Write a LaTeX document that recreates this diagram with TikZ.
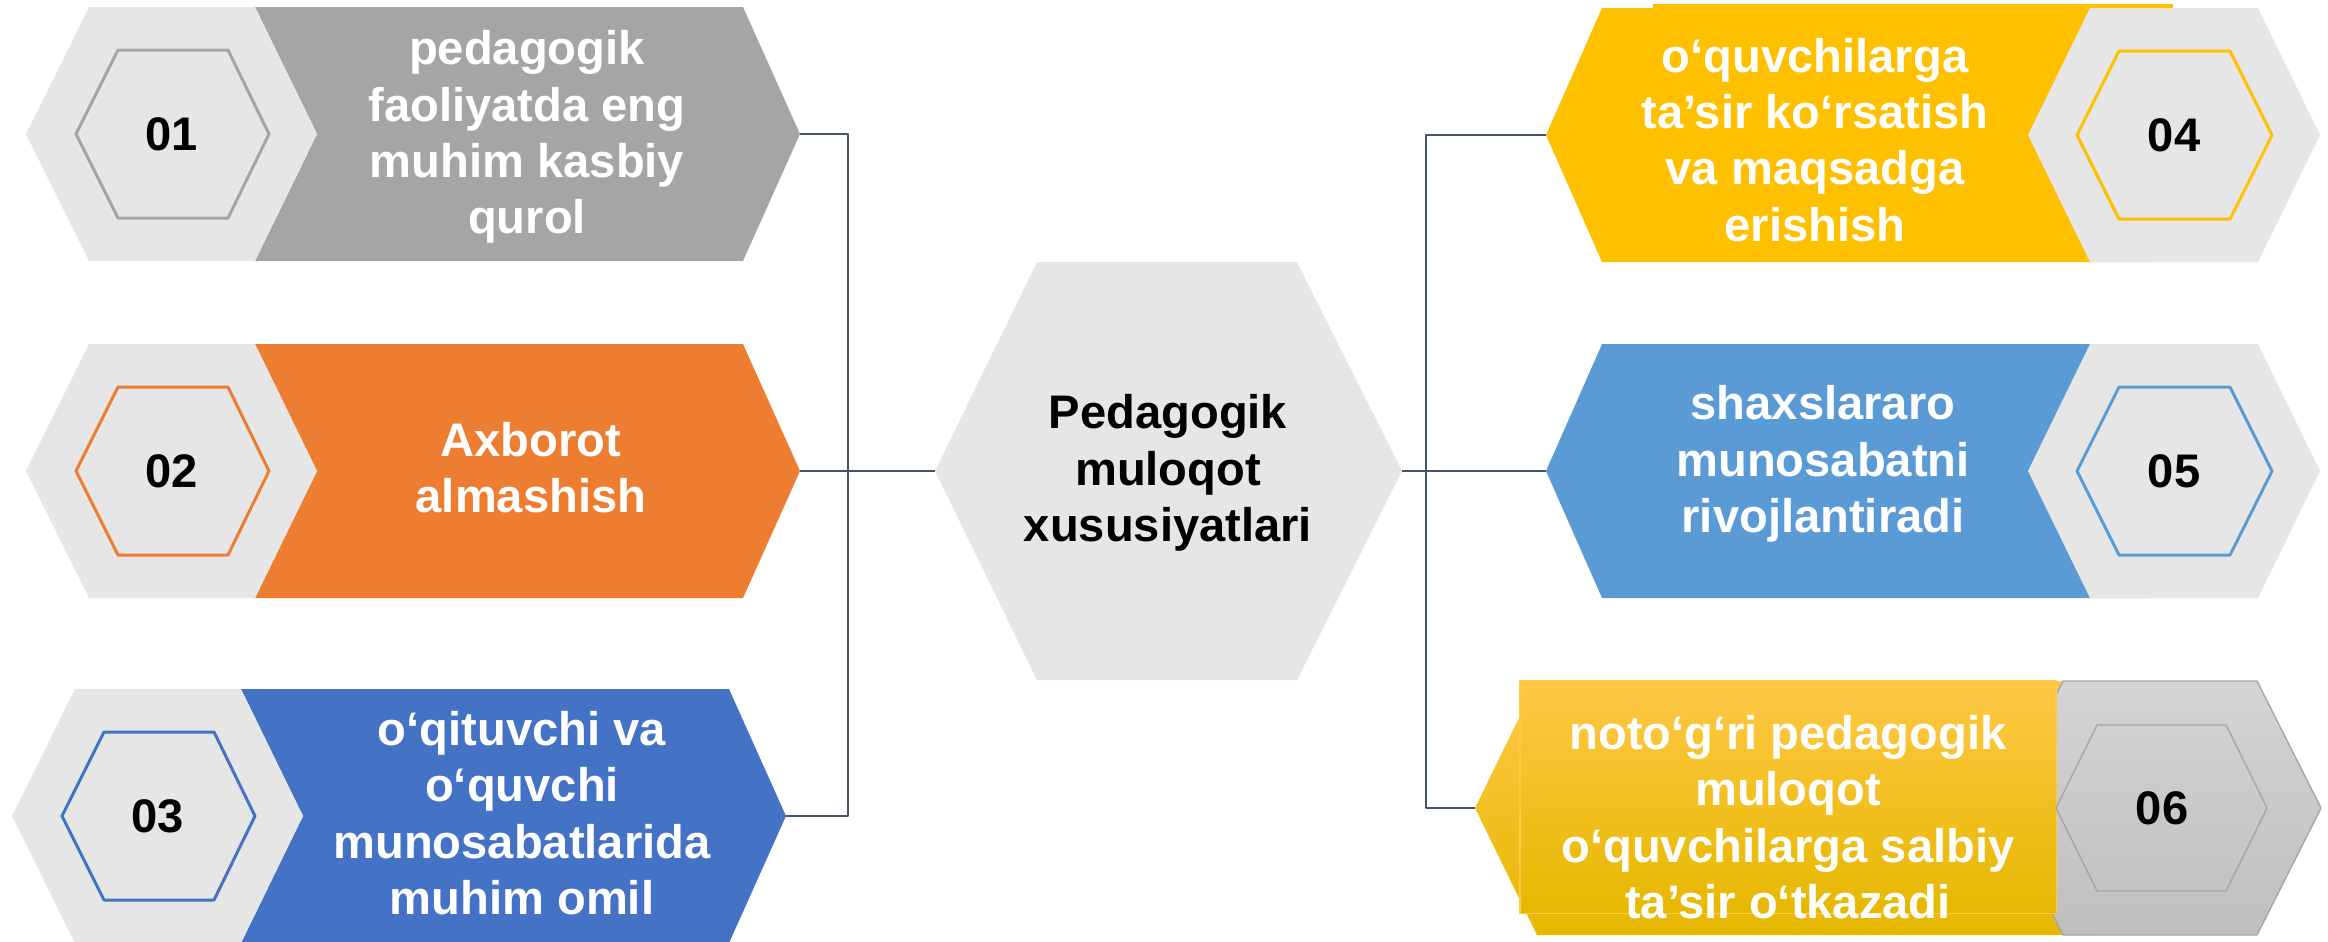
\documentclass[tikz,border=0pt]{standalone}
\usepackage{fontspec}
\setmainfont{Liberation Sans}
\definecolor{hexbg}{HTML}{E6E6E6}
\definecolor{boxgray}{HTML}{A5A5A5}
\definecolor{boxorange}{HTML}{ED7D31}
\definecolor{boxblue}{HTML}{4472C4}
\definecolor{boxyellow}{HTML}{FFC000}
\definecolor{boxsky}{HTML}{5B9BD5}
\definecolor{linkcol}{HTML}{44546A}
\definecolor{ylwtop}{HTML}{FFC846}
\definecolor{ylwbot}{HTML}{E6B800}
\definecolor{grytop}{HTML}{D4D4D4}
\definecolor{grybot}{HTML}{BFBFBF}
\definecolor{gryedge}{HTML}{A6A6A6}
\begin{document}
\begin{tikzpicture}[x=0.01cm, y=-0.01cm, line join=round,
  conn/.style={draw=linkcol, line width=0.6pt},
  boxtext/.style={text=white, align=center, font=\bfseries\fontsize{13.4}{16}\selectfont},
  numtext/.style={text=black, font=\bfseries\fontsize{13.4}{16}\selectfont},
  inhex/.style={fill=hexbg, line width=0.85pt}]
\useasboundingbox (0,0) rectangle (2328,941);
% chap tomondagi uchta qator
\foreach \y/\s/\c/\n in {134/0/boxgray/01, 471/0/boxorange/02, 816/-14/boxblue/03}{
  \begin{scope}[shift={(\s,\y)}]
    \fill[\c] (255,-127) -- (743,-127) -- (800,0) -- (743,127) -- (255,127) -- (317,0) -- cycle;
    \fill[hexbg] (26,0) -- (89,-127) -- (255,-127) -- (317,0) -- (255,127) -- (89,127) -- cycle;
    \draw[inhex, draw=\c] (76,0) -- (118,-84) -- (228,-84) -- (269,0) -- (228,84) -- (118,84) -- cycle;
    \node[numtext] (n\n) at (172,0) {\n};
    \coordinate (t\n) at (800,0);
  \end{scope}
}
\node[boxtext] (txt1) at (527,137) {pedagogik\\faoliyatda eng\\muhim kasbiy\\qurol};
\node[boxtext] (txt2) at (531,468) {Axborot\\almashish};
\node[boxtext] (txt3) at (522,813) {o‘qituvchi va\\o‘quvchi\\munosabatlarida\\muhim omil};
% o'ng tomondagi 04 va 05
\fill[boxyellow] (1653,4) rectangle (2173,258);
\foreach \y/\c/\n in {135/boxyellow/04, 471/boxsky/05}{
  \begin{scope}[shift={(0,\y)}]
    \fill[\c] (1546,0) -- (1602,-127) -- (2150,-127) -- (2150,127) -- (1602,127) -- cycle;
    \fill[hexbg] (2028,0) -- (2090,-127) -- (2258,-127) -- (2320,0) -- (2258,127) -- (2090,127) -- cycle;
    \draw[inhex, draw=\c] (2077,0) -- (2119,-84) -- (2230,-84) -- (2272,0) -- (2230,84) -- (2119,84) -- cycle;
    \node[numtext] (n\n) at (2174,0) {\n};
    \coordinate (t\n) at (1546,0);
  \end{scope}
}
\node[boxtext] (txt4) at (1815,140) {o‘quvchilarga\\ta’sir ko‘rsatish\\va maqsadga\\erishish};
\node[boxtext] (txt5) at (1823,464) {shaxslararo\\munosabatni\\rivojlantiradi};
% 06 qatori (gradientli)
\shade[top color=ylwtop, middle color=boxyellow, bottom color=ylwbot]
  (1475,808) -- (1537,681) -- (2100,681) -- (2100,935) -- (1537,935) -- cycle;
\shade[top color=grytop, bottom color=grybot, draw=gryedge, line width=0.4pt]
  (1999,808) -- (2063,681) -- (2257,681) -- (2321,808) -- (2257,935) -- (2063,935) -- cycle;
\shade[top color=ylwtop, middle color=boxyellow, bottom color=ylwbot, draw=ylwtop, line width=0.3pt]
  (1520,681) rectangle (2056,913);
\draw[gryedge, line width=0.4pt] (2056,808) -- (2097,725) -- (2226,725) -- (2267,808) -- (2226,891) -- (2097,891) -- cycle;
\node[numtext] (n06) at (2162,808) {06};
\coordinate (t06) at (1475,808);
\node[boxtext] (txt6) at (1788,817) {noto‘g‘ri pedagogik\\muloqot\\o‘quvchilarga salbiy\\ta’sir o‘tkazadi};
% markaziy olti burchak
\fill[hexbg] (935,471) -- (1037,262) -- (1297,262) -- (1402,471) -- (1297,680) -- (1037,680) -- cycle;
\node[numtext, align=center] (mark) at (1168,473) {Pedagogik\\muloqot\\xususiyatlari};
\coordinate (cl) at (935,471);
\coordinate (cr) at (1402,471);
% bog'lovchi chiziqlar
\coordinate (vl) at (848,0);
\coordinate (vr) at (1426,0);
\draw[conn] (t01) -- (t01 -| vl) -- (t03 -| vl) -- (t03);
\draw[conn] (t02) -- (cl);
\draw[conn] (t04) -- (t04 -| vr) -- (t06 -| vr) -- (t06);
\draw[conn] (cr) -- (t05);
\end{tikzpicture}
\end{document}
